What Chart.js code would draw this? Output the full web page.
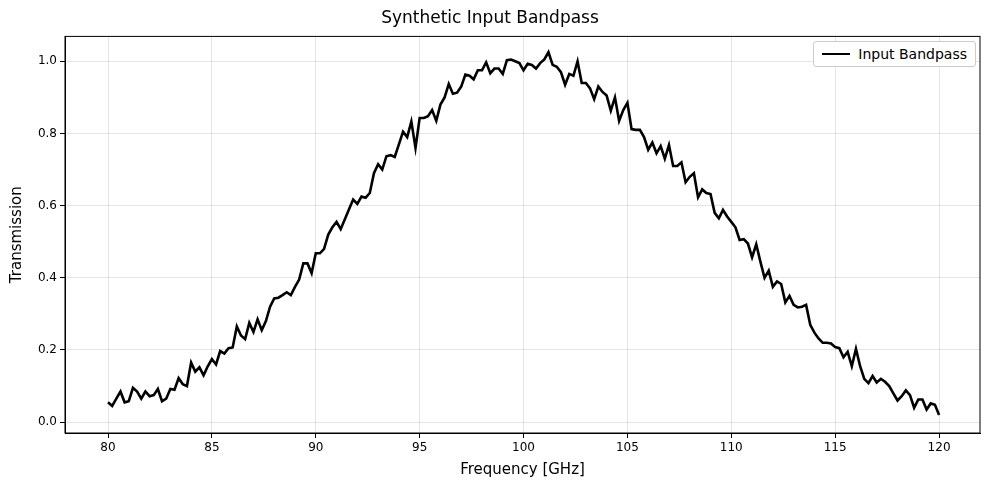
<!DOCTYPE html>
<html>
<head>
<meta charset="utf-8">
<script src="https://cdn.jsdelivr.net/npm/chart.js@4.4.0/dist/chart.umd.min.js"></script>
<style>
body { margin: 0; background: #fff; }
#wrap { position: relative; width: 989px; height: 490px; }
#legend { position: absolute; right: 13px; top: 41px; border: 1px solid #ccc; border-radius: 3px; padding: 4px 8px; font: 14px "DejaVu Sans", sans-serif; background: #fff; display: flex; align-items: center; }
#legend span.line { display: inline-block; width: 28px; height: 2.5px; background: #000; margin-right: 8px; }
</style>
</head>
<body>
<div id="wrap">
<canvas id="bandpass-chart" width="989" height="490"></canvas>
<div id="legend"><span class="line"></span>Input Bandpass</div>
</div>
<script>
var startFreq = 80;
var stepFreq = 0.2;
var transmission = [
    0.055, 0.045, 0.065, 0.085, 0.055, 0.058, 0.095, 0.085, 0.065, 0.085,
    0.072, 0.075, 0.092, 0.058, 0.065, 0.092, 0.09, 0.122, 0.105, 0.10,
    0.165, 0.14, 0.152, 0.13, 0.155, 0.175, 0.16, 0.197, 0.19, 0.205,
    0.207, 0.265, 0.24, 0.23, 0.275, 0.25, 0.285, 0.255, 0.28, 0.32,
    0.343, 0.345, 0.352, 0.36, 0.352, 0.375, 0.395, 0.44, 0.44, 0.413,
    0.468, 0.468, 0.48, 0.52, 0.54, 0.555, 0.535, 0.562, 0.59, 0.617,
    0.605, 0.625, 0.622, 0.635, 0.69, 0.715, 0.70, 0.737, 0.74, 0.735,
    0.77, 0.805, 0.79, 0.833, 0.76, 0.843, 0.843, 0.848, 0.865, 0.835,
    0.88, 0.90, 0.937, 0.91, 0.913, 0.93, 0.963, 0.96, 0.95, 0.975,
    0.975, 0.997, 0.967, 0.98, 0.98, 0.965, 1.003, 1.005, 1.0, 0.995,
    0.975, 0.993, 0.99, 0.98, 0.995, 1.005, 1.025, 0.99, 0.985, 0.97,
    0.935, 0.965, 0.96, 1.0, 0.94, 0.94, 0.925, 0.895, 0.93, 0.915,
    0.905, 0.863, 0.90, 0.835, 0.865, 0.885, 0.812, 0.81, 0.81, 0.79,
    0.755, 0.775, 0.745, 0.765, 0.73, 0.768, 0.71, 0.71, 0.72, 0.665,
    0.68, 0.69, 0.623, 0.645, 0.635, 0.632, 0.58, 0.565, 0.588, 0.57,
    0.555, 0.54, 0.505, 0.507, 0.495, 0.457, 0.493, 0.445, 0.40, 0.42,
    0.375, 0.39, 0.383, 0.332, 0.35, 0.325, 0.318, 0.32, 0.325, 0.27,
    0.248, 0.232, 0.22, 0.22, 0.218, 0.208, 0.205, 0.18, 0.195, 0.155,
    0.203, 0.155, 0.12, 0.108, 0.128, 0.11, 0.12, 0.112, 0.10, 0.08,
    0.06, 0.072, 0.088, 0.075, 0.04, 0.063, 0.063, 0.035, 0.052, 0.048,
    0.02
];
var xTicks = [80, 85, 90, 95, 100, 105, 110, 115, 120];
var yTicks = [0.0, 0.2, 0.4, 0.6, 0.8, 1.0];

var points = transmission.map(function(v, i) {
    return { x: startFreq + i * stepFreq, y: v };
});

var font = "'DejaVu Sans', sans-serif";
var ctx = document.getElementById('bandpass-chart');
var bandpassChart = new Chart(ctx, {
    type: 'line',
    data: {
        datasets: [{
            label: 'Input Bandpass',
            data: points,
            borderColor: '#000',
            borderWidth: 2.6,
            pointRadius: 0,
            tension: 0
        }]
    },
    options: {
        responsive: false,
        animation: false,
        layout: { padding: { left: 0, right: 9, top: 0, bottom: 0 } },
        plugins: {
            legend: { display: false },
            title: {
                display: true,
                text: 'Synthetic Input Bandpass',
                color: '#000',
                font: { family: font, size: 17, weight: 'normal' },
                padding: { top: 8, bottom: 8 }
            }
        },
        scales: {
            x: {
                type: 'linear',
                min: 77.93, max: 121.97,
                afterBuildTicks: function(axis) { axis.ticks = xTicks.map(function(v) { return { value: v }; }); },
                afterFit: function(axis) { axis.height = 57; },
                grid: { color: 'rgba(0,0,0,0.1)', tickColor: '#000', tickLength: 5 },
                border: { color: '#000', width: 1 },
                ticks: { color: '#000', font: { family: font, size: 12 }, maxRotation: 0 },
                title: { display: true, text: 'Frequency [GHz]', color: '#000', font: { family: font, size: 15 }, padding: { top: 2, bottom: 11 } }
            },
            y: {
                min: -0.03, max: 1.069,
                afterBuildTicks: function(axis) { axis.ticks = yTicks.map(function(v) { return { value: v }; }); },
                afterFit: function(axis) { axis.width = 65; },
                grid: { color: 'rgba(0,0,0,0.1)', tickColor: '#000', tickLength: 5 },
                border: { color: '#000', width: 1 },
                ticks: { color: '#000', font: { family: font, size: 12 }, callback: function(v) { return v.toFixed(1); } },
                title: { display: true, text: 'Transmission', color: '#000', font: { family: font, size: 15 }, padding: { top: 8, bottom: 4 } }
            }
        }
    },
    plugins: [{
        id: 'frame',
        afterDraw: function(chart) {
            var a = chart.chartArea, c = chart.ctx;
            c.save();
            c.strokeStyle = '#000';
            c.lineWidth = 1;
            c.strokeRect(a.left, a.top, a.right - a.left, a.bottom - a.top);
            c.restore();
        }
    }]
});
</script>
</body>
</html>
